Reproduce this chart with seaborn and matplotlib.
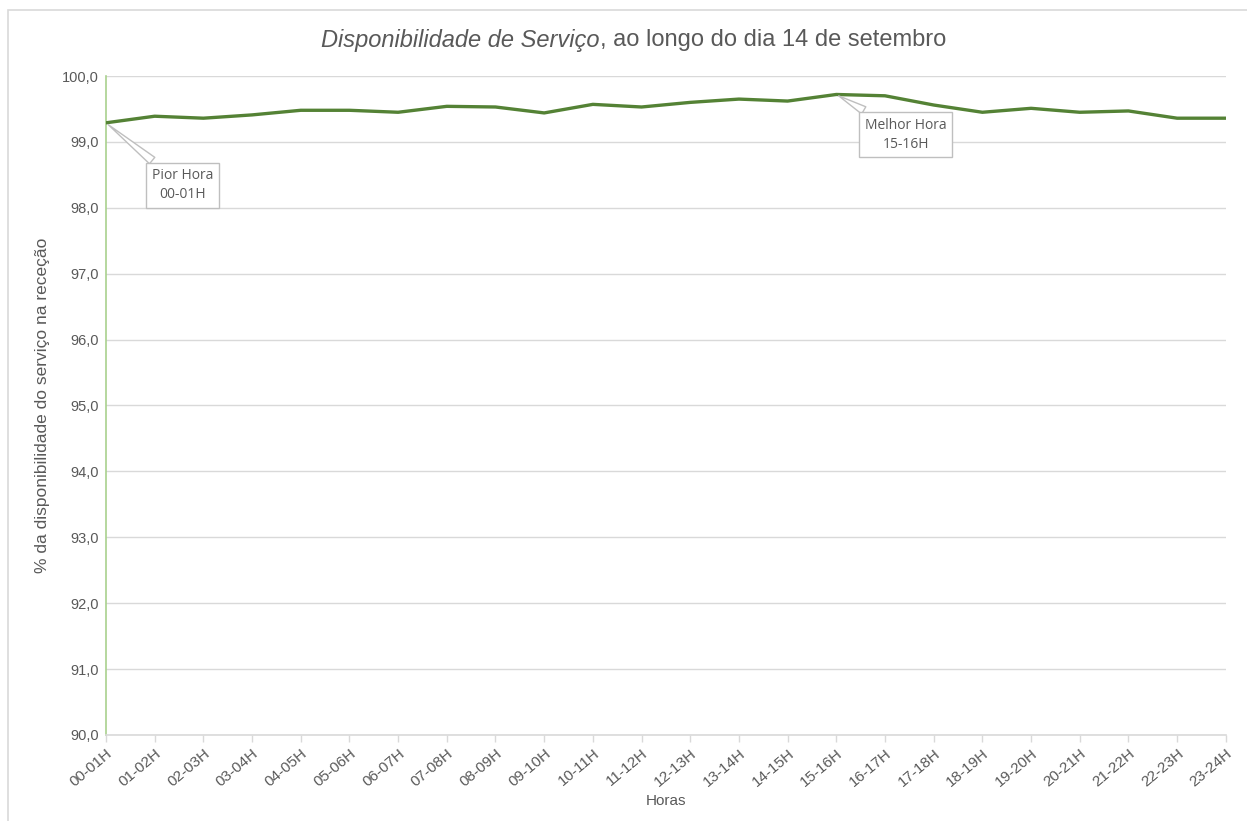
import matplotlib
matplotlib.use("Agg")
import matplotlib.pyplot as plt
import seaborn as sns
import pandas as pd
from matplotlib.patches import Rectangle

horas = ["00-01H", "01-02H", "02-03H", "03-04H", "04-05H", "05-06H", "06-07H", "07-08H",
         "08-09H", "09-10H", "10-11H", "11-12H", "12-13H", "13-14H", "14-15H", "15-16H",
         "16-17H", "17-18H", "18-19H", "19-20H", "20-21H", "21-22H", "22-23H", "23-24H"]
disponibilidade = [99.29, 99.39, 99.36, 99.41, 99.48, 99.48, 99.45, 99.54,
                   99.53, 99.44, 99.57, 99.53, 99.60, 99.65, 99.62, 99.72,
                   99.70, 99.56, 99.45, 99.51, 99.45, 99.47, 99.36, 99.36]

df = pd.DataFrame({"hora": horas, "valor": disponibilidade, "pos": range(len(horas))})

sns.set_theme(style="white")
plt.rcParams["font.family"] = ["Liberation Sans", "DejaVu Sans"]

GRAY = "#595959"
GREEN = "#548235"

fig = plt.figure(figsize=(12.47, 8.21), dpi=100)
ax = fig.add_axes([0.085, 0.1048, 0.898, 0.8026])

# chart area border
fig.patches.append(Rectangle((8 / 1247, -0.1), 1.2, 1 - 10 / 821 + 0.1, transform=fig.transFigure,
                             fill=False, edgecolor="#d9d9d9", linewidth=1.2, zorder=0))

sns.lineplot(data=df, x="pos", y="valor", ax=ax, color=GREEN, linewidth=2.4, zorder=5)

ax.set_xlim(0, len(horas) - 1)
ax.set_ylim(90, 100)
ax.set_yticks(range(90, 101))
ax.set_yticklabels([f"{v},0" for v in range(90, 101)], color=GRAY, fontsize=10.5)
ax.set_xticks(df["pos"])
ax.set_xticklabels(horas, rotation=40, ha="right", rotation_mode="anchor", color=GRAY, fontsize=11)
ax.grid(axis="y", color="#d9d9d9", linewidth=1)
ax.set_axisbelow(True)

for s in ["top", "right"]:
    ax.spines[s].set_visible(False)
ax.spines["left"].set_color("#a9d18e")
ax.spines["left"].set_linewidth(1.2)
ax.spines["bottom"].set_color("#d9d9d9")
ax.spines["bottom"].set_linewidth(1.2)
ax.tick_params(axis="x", bottom=True, length=5, color="#d9d9d9", width=1, pad=3)
ax.tick_params(axis="y", left=False, length=0, pad=5)

ax.set_xlabel("Horas", color=GRAY, fontsize=11, labelpad=4)
ax.set_ylabel("% da disponibilidade do serviço na receção", color=GRAY, fontsize=12.5, labelpad=9)

fig.text(0.481, 0.951, "Disponibilidade de Serviço", style="italic", color=GRAY, fontsize=17,
         ha="right", va="center", transform=fig.transFigure)
fig.text(0.481, 0.951, ", ao longo do dia 14 de setembro", color=GRAY, fontsize=17,
         ha="left", va="center", transform=fig.transFigure)

# callouts
imin = disponibilidade.index(min(disponibilidade))
imax = disponibilidade.index(max(disponibilidade))
box = dict(boxstyle="square,pad=0.4", fc="white", ec="#bfbfbf", lw=1)
wedge = dict(arrowstyle="wedge,tail_width=0.6,shrink_factor=0.5", fc="white", ec="#bfbfbf", lw=1)
ax.annotate(f"Pior Hora\n{horas[imin]}", xy=(imin, disponibilidade[imin]), xytext=(55, -45),
            textcoords="offset points", ha="center", va="center", fontsize=10, color=GRAY,
            family="Open Sans", linespacing=1.35, bbox=box, arrowprops=wedge, zorder=6)
ax.annotate(f"Melhor Hora\n{horas[imax]}", xy=(imax, disponibilidade[imax]), xytext=(50, -29),
            textcoords="offset points", ha="center", va="center", fontsize=10, color=GRAY,
            family="Open Sans", linespacing=1.35, bbox=box, arrowprops=wedge, zorder=6)

fig.savefig("out.png", dpi=100)
